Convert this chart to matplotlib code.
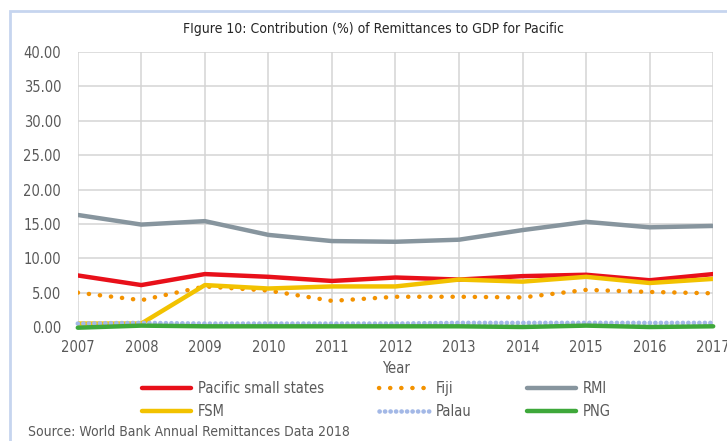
import matplotlib
matplotlib.use("Agg")
import matplotlib.pyplot as plt
from matplotlib.patches import Rectangle

# ---- data ----
years = [2007, 2008, 2009, 2010, 2011, 2012, 2013, 2014, 2015, 2016, 2017]
pacific = [7.5, 6.1, 7.7, 7.3, 6.7, 7.2, 6.9, 7.4, 7.6, 6.8, 7.7]
fiji = [5.0, 3.9, 5.9, 5.3, 3.8, 4.4, 4.4, 4.3, 5.4, 5.1, 4.9]
rmi = [16.3, 14.9, 15.4, 13.4, 12.5, 12.4, 12.7, 14.1, 15.3, 14.5, 14.7]
fsm = [0.5, 0.5, 6.1, 5.6, 5.9, 5.9, 6.9, 6.6, 7.3, 6.4, 7.0]
palau = [0.5, 0.6, 0.5, 0.5, 0.5, 0.5, 0.6, 0.6, 0.6, 0.6, 0.6]
png = [-0.1, 0.2, 0.1, 0.1, 0.1, 0.1, 0.1, 0.0, 0.2, 0.0, 0.1]
yticks = [0, 5, 10, 15, 20, 25, 30, 35, 40]

# condensed face is the closest to the narrow font of the original
plt.rcParams["font.family"] = ["DejaVu Sans"]
plt.rcParams["font.stretch"] = "condensed"
TXT = "#595959"
FS_TICK = 10.5
FS = 10

fig = plt.figure(figsize=(7.27, 4.41), dpi=100)
ax = fig.add_axes([0.107, 0.2585, 0.874, 0.6235])

# light blue frame around the chart
fig.patches.append(Rectangle((9.5 / 727, -0.1), 1.2, 1 - 10.5 / 441 + 0.1,
                             transform=fig.transFigure, fill=False,
                             edgecolor="#c6d5ef", linewidth=2))

lw = 3.2
ax.plot(years, pacific, color="#e8101a", lw=lw, solid_capstyle="round",
        solid_joinstyle="round", label="Pacific small states", zorder=3)
ax.plot(years, fiji, color="#f39200", lw=3.2, linestyle=(0, (0.05, 2.45)),
        dash_capstyle="round", label="Fiji", zorder=4)
ax.plot(years, rmi, color="#87959e", lw=lw, solid_capstyle="round",
        solid_joinstyle="round", label="RMI", zorder=5)
ax.plot(years, fsm, color="#f2c200", lw=lw, solid_capstyle="round",
        solid_joinstyle="round", label="FSM", zorder=6)
ax.plot(years, palau, color="#a3b8e6", lw=3.3, linestyle=(0, (0.05, 1.15)),
        dash_capstyle="round", label="Palau", zorder=7, clip_on=False)
ax.plot(years, png, color="#3ea83a", lw=lw, solid_capstyle="round",
        solid_joinstyle="round", label="PNG", zorder=8, clip_on=False)

ax.set_xlim(2007, 2017)
ax.set_ylim(0, 40)
ax.set_xticks(years)
ax.set_yticks(yticks)
ax.set_yticklabels([f"{v:.2f}" for v in yticks])
ax.grid(True, color="#d4d4d4", lw=1.1)
ax.set_axisbelow(True)
for s in ax.spines.values():
    s.set_visible(False)
ax.tick_params(length=0, labelsize=FS_TICK, colors=TXT)
ax.tick_params(axis="y", pad=12)
ax.tick_params(axis="x", pad=9)
ax.set_xlabel("Year", fontsize=FS_TICK, color=TXT, labelpad=5)

ax.set_title("FIgure 10: Contribution (%) of Remittances to GDP for Pacific",
             fontsize=FS, color="#262626", pad=14, x=0.465)

# legend: column-major order so rows read Pacific/Fiji/RMI, FSM/Palau/PNG
h, l = ax.get_legend_handles_labels()
order = [0, 3, 1, 4, 2, 5]
fig.legend([h[i] for i in order], [l[i] for i in order], ncol=3,
           loc="center left", bbox_to_anchor=(0.177, 0.093), frameon=False,
           fontsize=FS_TICK, labelcolor=TXT, handlelength=3.4,
           handletextpad=0.45, columnspacing=3.8, labelspacing=0.55)

fig.text(28 / 727, 1 - 432 / 441, "Source: World Bank Annual Remittances Data 2018",
         fontsize=FS, color=TXT, va="center", ha="left")

fig.savefig("out.png", dpi=100, facecolor="white")
